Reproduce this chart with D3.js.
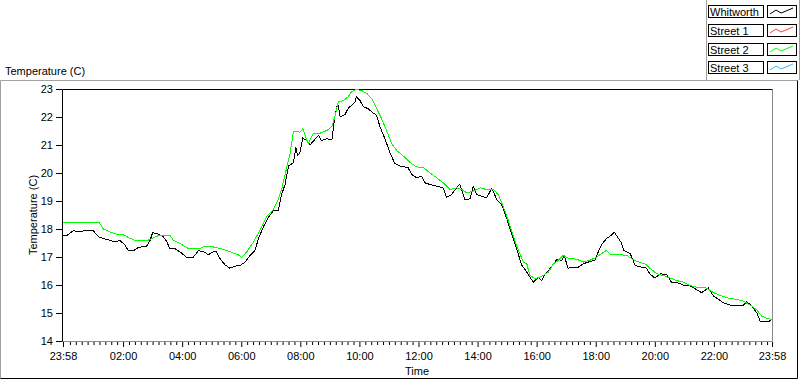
<!DOCTYPE html>
<html>
<head>
<meta charset="utf-8">
<script src="https://cdn.jsdelivr.net/npm/d3@7"></script>
<style>
  body { margin: 0; background: #fff; }
  svg { display: block; font-family: 'Liberation Sans', Arial, sans-serif; }
</style>
</head>
<body>
<div id="chart"></div>
<script>
// minutes since midnight, -2 = 23:58 of the previous day
const seriesNames = ['Whitworth', 'Street 1', 'Street 2', 'Street 3'];
const seriesColors = ['#000000', '#ff3c3c', '#00ff00', '#33bbff'];

const whitworthMinutes = [-2, 5, 19, 33, 46, 60, 70, 80, 93, 104, 114, 124, 131, 141, 151, 168, 175, 180, 192, 202,
  209, 215, 225, 236, 248, 263, 273, 283, 293, 303, 310, 317, 327, 337, 347, 358, 368, 378, 388, 395,
  405, 415, 425, 435, 442, 449, 456, 466, 471, 474, 479, 485, 493, 500, 506, 517, 523, 534, 544, 550,
  556, 561, 571, 577, 584, 591, 594, 601, 608, 618, 625, 635, 642, 652, 662, 672, 682, 699, 706, 716,
  726, 733, 743, 757, 770, 777, 787, 797, 804, 814, 825, 831, 838, 848, 858, 869, 879, 889, 899, 909,
  919, 930, 940, 946, 953, 963, 970, 977, 987, 1001, 1011, 1016, 1024, 1034, 1045, 1055, 1065, 1078, 1085, 1092,
  1102, 1110, 1118, 1124, 1131, 1137, 1150, 1160, 1173, 1183, 1190, 1200, 1211, 1224, 1234, 1248, 1258, 1271, 1285, 1295,
  1309, 1319, 1329, 1339, 1353, 1366, 1380, 1387, 1397, 1407, 1414, 1420, 1431, 1438];
const whitworthTemps = [17.76, 17.76, 17.94, 17.90, 17.96, 17.93, 17.72, 17.66, 17.60, 17.54, 17.59, 17.42, 17.22, 17.22, 17.34, 17.39, 17.60, 17.87, 17.82, 17.72,
  17.54, 17.30, 17.30, 17.18, 17.00, 17.00, 17.22, 17.20, 17.08, 17.18, 17.18, 16.94, 16.72, 16.60, 16.67, 16.70, 16.82, 17.06, 17.24, 17.66,
  18.08, 18.41, 18.65, 18.65, 19.23, 19.59, 20.25, 20.37, 20.92, 20.64, 20.70, 21.25, 21.16, 21.01, 21.13, 21.34, 21.16, 21.22, 21.18, 22.00,
  22.50, 22.00, 22.10, 22.30, 22.42, 22.54, 22.72, 22.60, 22.36, 22.30, 22.18, 22.06, 21.64, 21.22, 20.73, 20.34, 20.25, 20.19, 19.95, 19.83,
  19.89, 19.65, 19.59, 19.53, 19.47, 19.13, 19.23, 19.47, 19.59, 19.05, 19.08, 19.53, 19.23, 19.17, 19.11, 19.45, 19.05, 18.87, 18.39, 17.84,
  17.30, 16.70, 16.46, 16.30, 16.10, 16.28, 16.16, 16.40, 16.58, 16.92, 16.88, 17.04, 16.60, 16.64, 16.64, 16.76, 16.82, 16.88, 17.18, 17.45,
  17.66, 17.76, 17.88, 17.72, 17.54, 17.24, 17.12, 16.70, 16.64, 16.60, 16.40, 16.25, 16.40, 16.37, 16.10, 16.07, 16.00, 15.98, 15.83, 15.73,
  15.89, 15.61, 15.49, 15.37, 15.28, 15.28, 15.28, 15.40, 15.25, 15.01, 14.71, 14.71, 14.69, 14.77];

const street1Minutes = [];
const street1Temps = [];

const street2Minutes = [-2, 19, 33, 72, 80, 93, 107, 124, 131, 144, 171, 185, 195, 215, 222, 236, 253, 276, 283, 303,
  317, 330, 344, 354, 361, 371, 385, 398, 412, 425, 435, 442, 449, 459, 466, 474, 479, 485, 490, 496,
  506, 520, 534, 544, 550, 557, 567, 577, 584, 594, 605, 615, 625, 635, 645, 655, 666, 676, 689, 703,
  716, 730, 743, 757, 770, 784, 797, 808, 818, 831, 845, 858, 872, 882, 892, 902, 913, 923, 933, 940,
  946, 957, 970, 984, 994, 1004, 1014, 1024, 1041, 1055, 1068, 1082, 1092, 1102, 1109, 1129, 1143, 1153, 1163, 1180,
  1190, 1204, 1217, 1231, 1244, 1258, 1271, 1285, 1305, 1319, 1338, 1352, 1366, 1379, 1387, 1397, 1407, 1417, 1427, 1438];
const street2Temps = [18.22, 18.25, 18.22, 18.22, 18.00, 17.90, 17.81, 17.78, 17.69, 17.60, 17.60, 17.72, 17.78, 17.78, 17.60, 17.48, 17.30, 17.30, 17.36, 17.36,
  17.30, 17.24, 17.14, 17.08, 16.99, 17.18, 17.54, 17.96, 18.45, 18.69, 19.05, 19.41, 19.95, 20.67, 21.48, 21.48, 21.45, 21.58, 21.34, 21.04,
  21.40, 21.42, 21.52, 21.66, 22.00, 22.54, 22.58, 22.72, 22.90, 22.99, 22.94, 22.84, 22.66, 22.30, 21.94, 21.52, 21.04, 20.80, 20.61, 20.37,
  20.22, 20.19, 20.01, 19.83, 19.65, 19.41, 19.47, 19.41, 19.29, 19.35, 19.47, 19.41, 19.41, 19.23, 18.81, 18.33, 17.72, 17.24, 16.82, 16.76,
  16.35, 16.22, 16.31, 16.46, 16.76, 16.88, 17.06, 16.96, 16.92, 16.82, 16.88, 17.00, 17.12, 17.24, 17.10, 17.08, 17.06, 16.94, 16.84, 16.76,
  16.60, 16.40, 16.34, 16.25, 16.16, 16.10, 15.98, 15.92, 15.89, 15.73, 15.59, 15.52, 15.49, 15.43, 15.35, 15.25, 15.11, 14.89, 14.81, 14.77];

const street3Minutes = [];
const street3Temps = [];

const tempTicks = [14, 15, 16, 17, 18, 19, 20, 21, 22, 23];
const timeTicks = [-2, 120, 240, 360, 480, 600, 720, 840, 960, 1080, 1200, 1320, 1438];
const timeTickLabels = ['23:58', '02:00', '04:00', '06:00', '08:00', '10:00', '12:00',
  '14:00', '16:00', '18:00', '20:00', '22:00', '23:58'];

const width = 800;
const height = 380;
const plot = { left: 63, right: 772, top: 89, bottom: 341 };
const font = "'Liberation Sans', Arial, sans-serif";

const svg = d3.select('#chart')
  .append('svg')
    .attr('width', width)
    .attr('height', height);

// outer panel frame
svg.append('path')
  .attr('d', 'M0.5,378.5 V80.5 H797.5')
  .attr('fill', 'none')
  .attr('stroke', '#a0a0a0');
svg.append('path')
  .attr('d', 'M0.5,378.5 H797.5 V80.5')
  .attr('fill', 'none')
  .attr('stroke', '#000');

const x = d3.scaleLinear()
  .domain([-2, 1438])
  .range([plot.left, plot.right]);

const y = d3.scaleLinear()
  .domain([14, 23])
  .range([plot.bottom, plot.top]);

// plot frame: black left/top, grey right/bottom
svg.append('path')
  .attr('d', `M${plot.right + 0.5},${plot.top + 0.5} V${plot.bottom + 0.5} H${plot.left - 0.5}`)
  .attr('fill', 'none')
  .attr('stroke', '#8a8a8a');
svg.append('path')
  .attr('d', `M${plot.left - 0.5},${plot.bottom + 0.5} V${plot.top + 0.5} H${plot.right + 0.5}`)
  .attr('fill', 'none')
  .attr('stroke', '#000');

// y axis
const yAxis = svg.append('g')
  .attr('transform', `translate(${plot.left - 1},0)`)
  .call(d3.axisLeft(y).tickValues(tempTicks).tickSize(6).tickPadding(3).tickFormat(d3.format('d')));
yAxis.select('.domain').remove();
yAxis.selectAll('text')
  .attr('font-size', 11)
  .attr('font-family', font)
  .attr('fill', '#000');

// x axis, minor ticks every 12 minutes
const minorTicks = d3.range(0, 1440, 12).filter(m => m % 120 !== 0);
const xMinor = svg.append('g')
  .attr('transform', `translate(0,${plot.bottom + 1})`)
  .call(d3.axisBottom(x).tickValues(minorTicks).tickSize(3).tickFormat(''));
xMinor.select('.domain').remove();

const xAxis = svg.append('g')
  .attr('transform', `translate(0,${plot.bottom + 1})`)
  .call(d3.axisBottom(x).tickValues(timeTicks).tickSize(5).tickPadding(5)
    .tickFormat((d, i) => timeTickLabels[i]));
xAxis.select('.domain').remove();
xAxis.selectAll('text')
  .attr('font-size', 11)
  .attr('font-family', font)
  .attr('fill', '#000');

// titles
svg.append('text')
  .attr('x', 5)
  .attr('y', 75)
  .attr('font-size', 11)
  .text('Temperature (C)');

svg.append('text')
  .attr('transform', `translate(37,${(plot.top + plot.bottom) / 2}) rotate(-90)`)
  .attr('text-anchor', 'middle')
  .attr('font-size', 11)
  .text('Temperature (C)');

svg.append('text')
  .attr('x', 417)
  .attr('y', 375)
  .attr('text-anchor', 'middle')
  .attr('font-size', 11)
  .text('Time');

// series, drawn in legend order
const series = [
  d3.zip(whitworthMinutes, whitworthTemps),
  d3.zip(street1Minutes, street1Temps),
  d3.zip(street2Minutes, street2Temps),
  d3.zip(street3Minutes, street3Temps)
];

const line = d3.line()
  .x(d => x(d[0]))
  .y(d => y(d[1]));

svg.append('g')
  .selectAll('path')
  .data(series)
  .join('path')
    .attr('fill', 'none')
    .attr('stroke', (d, i) => seriesColors[i])
    .attr('stroke-width', 1)
    .attr('shape-rendering', 'crispEdges')
    .attr('d', d => (d.length ? line(d) : null));

// legend
const legend = svg.append('g');
legend.append('path')
  .attr('d', 'M706.5,0 V80 M799.5,0 V80')
  .attr('stroke', '#a0a0a0');

const rows = legend.selectAll('g.row')
  .data(seriesNames)
  .join('g')
    .attr('class', 'row')
    .attr('transform', (d, i) => `translate(0,${5 + Math.round(i * 18.8)})`);

rows.append('rect')
  .attr('x', 708.5)
  .attr('y', 0.5)
  .attr('width', 55)
  .attr('height', 12)
  .attr('fill', '#fff')
  .attr('stroke', '#000');

rows.append('text')
  .attr('x', 710)
  .attr('y', 10.5)
  .attr('font-size', 11)
  .text(d => d);

rows.append('rect')
  .attr('x', 767.5)
  .attr('y', 0.5)
  .attr('width', 29)
  .attr('height', 12)
  .attr('fill', '#fff')
  .attr('stroke', '#000');

const swatch = d3.line();
rows.append('path')
  .attr('d', swatch([[770, 9], [776, 5], [781, 8], [786, 6], [793, 3]]))
  .attr('fill', 'none')
  .attr('stroke', (d, i) => seriesColors[i]);
</script>
</body>
</html>
